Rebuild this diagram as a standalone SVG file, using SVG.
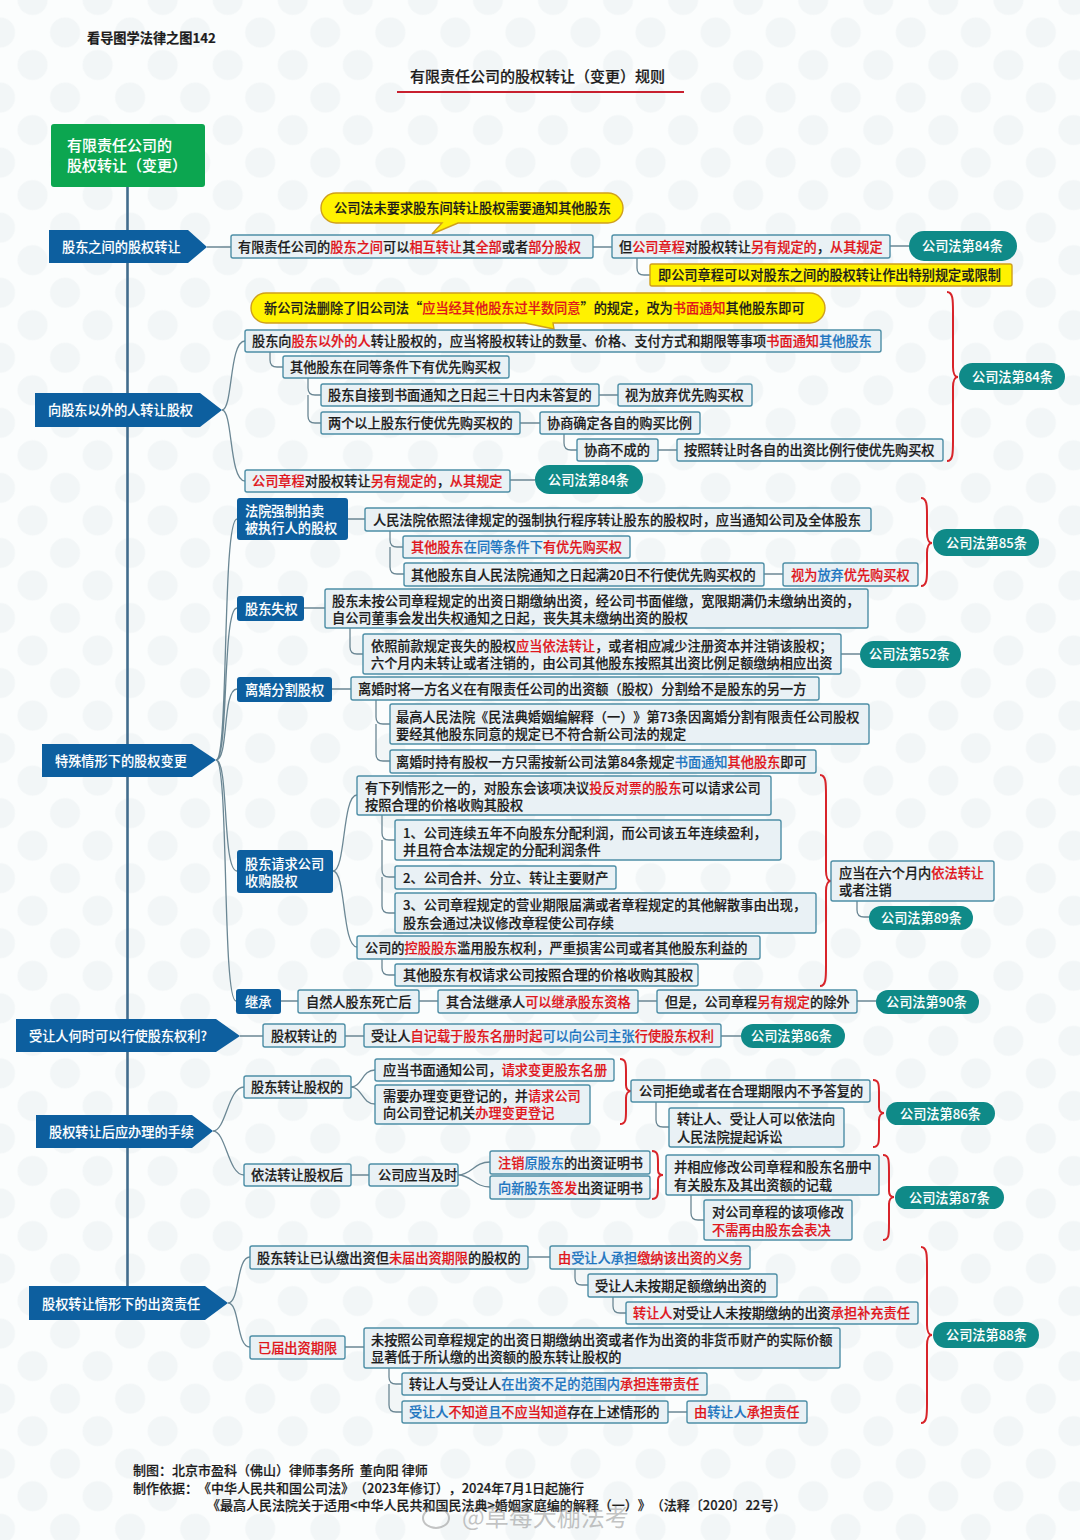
<svg xmlns="http://www.w3.org/2000/svg" width="1080" height="1540" viewBox="0 0 1080 1540">
<style>
text{font-family:"Noto Sans CJK SC","Noto Sans",sans-serif;font-size:13.2px;font-weight:500;fill:#1c1c1c;stroke:#1c1c1c;stroke-width:.2;text-spacing-trim:space-all}
.b{fill:#e9f1f5;stroke:#4d8ea6;stroke-width:1.4}
.y{fill:#fff200;stroke:#cf9f1c;stroke-width:1.4}
.p{fill:#0f8a88}
.s{fill:#0d5f9f}
.w{fill:#fff;stroke:#fff;stroke-width:.1}
.r{fill:#e0161c;stroke:#e0161c}
.u{fill:#1f76c0;stroke:#1f76c0}
.c{fill:none;stroke:#6b8794;stroke-width:1.3}
.t{fill:none;stroke:#426c8c;stroke-width:2.6}
.br{fill:none;stroke:#d8242a;stroke-width:2}
.f{font-size:13px;white-space:pre}
.wm{font-size:24px;font-weight:400;fill:#8a8a8a;fill-opacity:.5;stroke:none}
</style>
<defs>
<pattern id="bg" width="46" height="46" patternUnits="userSpaceOnUse" patternTransform="rotate(45)">
<rect width="46" height="46" fill="#fbfdfd"/>
<circle cx="23" cy="23" r="15" fill="#f2f6f7"/>
</pattern>
</defs>
<rect width="1080" height="1540" fill="url(#bg)"/>

<g id="heading">
<text x="87" y="43" style="font-weight:700">看导图学法律之图142</text>
<text x="410" y="82" style="font-size:15px">有限责任公司的股权转让（变更）规则</text>
<line x1="397" y1="92" x2="684" y2="92" stroke="#c8202f" stroke-width="2.2"/>
</g>

<g id="connectors">
<path class="t" d="M127.5 187V1288"/>
<path class="c" d="M207 247H231M593 247H612M890 246H909M637 258V268Q637 275 644 275H650"/>
<path class="c" d="M222 410C233 410 229 341 245 341M222 410C233 410 229 481 245 481"/>
<path class="c" d="M270 351V360Q270 367 277 367H283M308 378V388Q308 395 315 395H321M308 395V416Q308 423 315 423H321"/>
<path class="c" d="M599 395H618M520 423H540M564 434V443Q564 450 571 450H577M658 450H677M510 480H535"/>
<path class="c" d="M216 760C229 760 222 519 237 519M216 760C229 760 222 608 237 608M216 760C229 760 222 689 237 689M216 760C229 760 222 871 237 871M216 760C229 760 222 1001 236 1001"/>
<path class="c" d="M348 519H365M390 531V540Q390 547 397 547H403M390 547V567Q390 574 397 574H404M764 574H783"/>
<path class="c" d="M304 608H325M350 628V647Q350 654 357 654H363M841 654H860"/>
<path class="c" d="M332 689H351M376 700V717Q376 724 383 724H390M376 724V754Q376 761 383 761H390"/>
<path class="c" d="M333 871C346 871 342 795 357 795M333 871C346 871 342 947 357 947"/>
<path class="c" d="M382 815V833Q382 840 389 840H395M382 840V870Q382 877 389 877H395M382 877V906Q382 913 389 913H395M382 959V968Q382 975 389 975H395"/>
<path class="c" d="M857 901V910Q857 917 864 917H869"/>
<path class="c" d="M281 1001H298M419 1001H438M638 1001H657M857 1001H876"/>
<path class="c" d="M240 1036H263M345 1036H364M721 1036H741"/>
<path class="c" d="M213 1131C226 1131 228 1087 244 1087M213 1131C226 1131 228 1175 244 1175"/>
<path class="c" d="M351 1087C362 1087 362 1070 375 1070M351 1087C362 1087 362 1104 375 1104"/>
<path class="c" d="M351 1175H369M458 1175C472 1175 474 1162 490 1162M458 1175C472 1175 474 1187 490 1187"/>
<path class="c" d="M656 1102V1120Q656 1127 663 1127H669M691 1195V1213Q691 1220 698 1220H704"/>
<path class="c" d="M228 1303C240 1303 236 1257 250 1257M228 1303C240 1303 236 1347 250 1347"/>
<path class="c" d="M528 1257H550M575 1269V1278Q575 1285 582 1285H588M613 1297V1306Q613 1313 620 1313H626"/>
<path class="c" d="M345 1347H364M389 1368V1377Q389 1384 396 1384H402M389 1384V1405Q389 1412 396 1412H402M668 1412H687"/>
</g>

<g id="braces">
<path class="br" d="M947 292C953 292 953 300 953 312V367C953 373 955 377 958 377C955 377 953 381 953 387V441C953 453 953 461 947 461"/>
<path class="br" d="M921 498C927 498 927 506 927 514V533C927 539 929 543 932 543C929 543 927 547 927 553V570C927 578 927 586 921 586"/>
<path class="br" d="M820 775C826 775 826 783 826 795V871C826 877 828 881 831 881C828 881 826 885 826 891V966C826 978 826 986 820 986"/>
<path class="br" d="M620 1059C626 1059 626 1064 626 1072V1085C626 1089 628 1091 631 1091C628 1091 626 1094 626 1098V1111C626 1119 626 1124 620 1124"/>
<path class="br" d="M873 1080C879 1080 879 1085 879 1093V1107C879 1111 881 1113 884 1113C881 1113 879 1116 879 1120V1134C879 1142 879 1147 873 1147"/>
<path class="br" d="M652 1151C658 1151 658 1156 658 1163V1170C658 1173 660 1175 663 1175C660 1175 658 1177 658 1180V1187C658 1194 658 1199 652 1199"/>
<path class="br" d="M883 1155C889 1155 889 1160 889 1172V1191C889 1195 891 1197 894 1197C891 1197 889 1200 889 1204V1223C889 1235 889 1240 883 1240"/>
<path class="br" d="M921 1247C927 1247 927 1255 927 1267V1325C927 1331 929 1335 932 1335C929 1335 927 1339 927 1345V1403C927 1415 927 1423 921 1423"/>
</g>

<g id="root"><rect x="51" y="124" width="154" height="63" rx="3" fill="#0ca650"/><text class="w" x="67" y="151" style="font-size:15px">有限责任公司的</text><text class="w" x="67" y="171" style="font-size:15px">股权转让（变更）</text></g>

<g id="s1"><polygon class="s" points="49,230 188,230 207,247 188,263 49,263"/><text class="w" x="62" y="252">股东之间的股权转让</text></g>
<g id="s2"><polygon class="s" points="35,393 200,393 222,410 200,427 35,427"/><text class="w" x="48" y="415">向股东以外的人转让股权</text></g>
<g id="s3"><polygon class="s" points="42,744 192,744 216,760 192,777 42,777"/><text class="w" x="55" y="766">特殊情形下的股权变更</text></g>
<g id="s4"><polygon class="s" points="16,1019 216,1019 240,1036 216,1052 16,1052"/><text class="w" x="29" y="1041">受让人何时可以行使股东权利?</text></g>
<g id="s5"><polygon class="s" points="36,1115 192,1115 213,1131 192,1148 36,1148"/><text class="w" x="49" y="1137">股权转让后应办理的手续</text></g>
<g id="s6"><polygon class="s" points="29,1286 205,1286 228,1303 205,1320 29,1320"/><text class="w" x="42" y="1309">股权转让情形下的出资责任</text></g>

<g id="c1"><path class="y" d="M336 193H608A15 15 0 0 1 608 223H458L432 234L442 223H336A15 15 0 0 1 336 193Z"/><text x="334" y="213">公司法未要求股东间转让股权需要通知其他股东</text></g>
<g id="n1"><rect class="b" x="231" y="235" width="362" height="23" rx="2"/><text x="238" y="251.500">有限责任公司的<tspan class="r">股东之间</tspan>可以<tspan class="r">相互转让</tspan>其<tspan class="r">全部</tspan>或者<tspan class="r">部分股权</tspan></text></g>
<g id="n2"><rect class="b" x="612" y="235" width="278" height="23" rx="2"/><text x="619" y="251.500">但<tspan class="r">公司章程</tspan>对股权转让<tspan class="r">另有规定的</tspan>，<tspan class="r">从其规定</tspan></text></g>
<g id="p1"><rect class="p" x="909" y="231" width="108" height="30" rx="15"/><text class="w" x="922" y="251">公司法第84条</text></g>
<g id="n3"><rect class="y" x="650" y="264" width="362" height="22" rx="2"/><text x="658" y="280">即公司章程可以对股东之间的股权转让作出特别规定或限制</text></g>

<g id="c2"><path class="y" d="M266 293H810A15 15 0 0 1 810 323H553L554 329L525 323H266A15 15 0 0 1 266 293Z"/><text x="264" y="313">新公司法删除了旧公司法“<tspan class="r">应当经其他股东过半数同意</tspan>”的规定，改为<tspan class="r">书面通知</tspan>其他股东即可</text></g>
<g id="n4"><rect class="b" x="245" y="330" width="636" height="22" rx="2"/><text x="252" y="345.500">股东向<tspan class="r">股东以外的人</tspan>转让股权的，应当将股权转让的数量、价格、支付方式和期限等事项<tspan class="r">书面通知</tspan><tspan class="u">其他股东</tspan></text></g>
<g id="n5"><rect class="b" x="283" y="356" width="226" height="22" rx="2"/><text x="290" y="372">其他股东在同等条件下有优先购买权</text></g>
<g id="n6"><rect class="b" x="321" y="384" width="278" height="22" rx="2"/><text x="328" y="400">股东自接到书面通知之日起三十日内未答复的</text></g>
<g id="n7"><rect class="b" x="618" y="384" width="134" height="22" rx="2"/><text x="625" y="400">视为放弃优先购买权</text></g>
<g id="n8"><rect class="b" x="321" y="412" width="199" height="22" rx="2"/><text x="328" y="428">两个以上股东行使优先购买权的</text></g>
<g id="n9"><rect class="b" x="540" y="412" width="160" height="22" rx="2"/><text x="547" y="428">协商确定各自的购买比例</text></g>
<g id="n10"><rect class="b" x="577" y="439" width="81" height="22" rx="2"/><text x="584" y="455">协商不成的</text></g>
<g id="n11"><rect class="b" x="677" y="439" width="266" height="22" rx="2"/><text x="684" y="455">按照转让时各自的出资比例行使优先购买权</text></g>
<g id="n12"><rect class="b" x="245" y="470" width="265" height="22" rx="2"/><text x="252" y="486"><tspan class="r">公司章程</tspan>对股权转让<tspan class="r">另有规定的</tspan>，<tspan class="r">从其规定</tspan></text></g>
<g id="p2"><rect class="p" x="535" y="465" width="108" height="29" rx="14.500"/><text class="w" x="548" y="485">公司法第84条</text></g>
<g id="p3"><rect class="p" x="959" y="363" width="106" height="27" rx="13.500"/><text class="w" x="972" y="382">公司法第84条</text></g>

<g id="k1"><rect class="s" x="237" y="498" width="111" height="42" rx="3"/><text class="w" x="245" y="516">法院强制拍卖</text><text class="w" x="245" y="533">被执行人的股权</text></g>
<g id="k2"><rect class="s" x="237" y="596" width="67" height="25" rx="3"/><text class="w" x="245" y="614">股东失权</text></g>
<g id="k3"><rect class="s" x="237" y="677" width="95" height="25" rx="3"/><text class="w" x="245" y="695">离婚分割股权</text></g>
<g id="k4"><rect class="s" x="237" y="850" width="96" height="43" rx="3"/><text class="w" x="245" y="869">股东请求公司</text><text class="w" x="245" y="886">收购股权</text></g>
<g id="k5"><rect class="s" x="236" y="989" width="45" height="25" rx="3"/><text class="w" x="245" y="1007">继承</text></g>

<g id="n13"><rect class="b" x="365" y="508" width="506" height="23" rx="2"/><text x="373" y="524.500">人民法院依照法律规定的强制执行程序转让股东的股权时，应当通知公司及全体股东</text></g>
<g id="n14"><rect class="b" x="403" y="536" width="227" height="22" rx="2"/><text x="411" y="552"><tspan class="r">其他股东</tspan><tspan class="u">在同等条件下</tspan><tspan class="r">有优先购买权</tspan></text></g>
<g id="n15"><rect class="b" x="404" y="563" width="360" height="23" rx="2"/><text x="411" y="579.500">其他股东自人民法院通知之日起满20日不行使优先购买权的</text></g>
<g id="n16"><rect class="b" x="783" y="563" width="135" height="23" rx="2"/><text x="791" y="579.500"><tspan class="r">视为</tspan><tspan class="u">放弃</tspan><tspan class="r">优先购买权</tspan></text></g>
<g id="p4"><rect class="p" x="933" y="529" width="106" height="27" rx="13.500"/><text class="w" x="946" y="548">公司法第85条</text></g>

<g id="n17"><rect class="b" x="325" y="589" width="543" height="39" rx="2"/><text x="332" y="606">股东未按公司章程规定的出资日期缴纳出资，经公司书面催缴，宽限期满仍未缴纳出资的，</text><text x="332" y="623">自公司董事会发出失权通知之日起，丧失其未缴纳出资的股权</text></g>
<g id="n18"><rect class="b" x="363" y="634" width="478" height="40" rx="2"/><text x="371" y="651">依照前款规定丧失的股权<tspan class="r">应当依法转让</tspan>，或者相应减少注册资本并注销该股权；</text><text x="371" y="668">六个月内未转让或者注销的，由公司其他股东按照其出资比例足额缴纳相应出资</text></g>
<g id="p5"><rect class="p" x="860" y="641" width="101" height="27" rx="13.500"/><text class="w" x="869" y="659">公司法第52条</text></g>
<g id="n19"><rect class="b" x="351" y="677" width="468" height="23" rx="2"/><text x="358" y="693.500">离婚时将一方名义在有限责任公司的出资额（股权）分割给不是股东的另一方</text></g>
<g id="n20"><rect class="b" x="390" y="704" width="479" height="40" rx="2"/><text x="396" y="722">最高人民法院《民法典婚姻编解释（一）》第73条因离婚分割有限责任公司股权</text><text x="396" y="739">要经其他股东同意的规定已不符合新公司法的规定</text></g>
<g id="n21"><rect class="b" x="390" y="750" width="426" height="23" rx="2"/><text x="396" y="766.500">离婚时持有股权一方只需按新公司法第84条规定<tspan class="u">书面通知</tspan><tspan class="r">其他股东</tspan>即可</text></g>

<g id="n22"><rect class="b" x="357" y="776" width="414" height="39" rx="2"/><text x="365" y="793">有下列情形之一的，对股东会该项决议<tspan class="r">投反对票的股东</tspan>可以请求公司</text><text x="365" y="810">按照合理的价格收购其股权</text></g>
<g id="n23"><rect class="b" x="395" y="820" width="386" height="40" rx="2"/><text x="403" y="838">1、公司连续五年不向股东分配利润，而公司该五年连续盈利，</text><text x="403" y="855">并且符合本法规定的分配利润条件</text></g>
<g id="n24"><rect class="b" x="395" y="866" width="221" height="23" rx="2"/><text x="403" y="882.500">2、公司合并、分立、转让主要财产</text></g>
<g id="n25"><rect class="b" x="395" y="893" width="421" height="40" rx="2"/><text x="403" y="910">3、公司章程规定的营业期限届满或者章程规定的其他解散事由出现，</text><text x="403" y="928">股东会通过决议修改章程使公司存续</text></g>
<g id="n26"><rect class="b" x="357" y="936" width="403" height="23" rx="2"/><text x="365" y="952.500">公司的<tspan class="r">控股股东</tspan>滥用股东权利，严重损害公司或者其他股东利益的</text></g>
<g id="n27"><rect class="b" x="395" y="964" width="303" height="22" rx="2"/><text x="403" y="980">其他股东有权请求公司按照合理的价格收购其股权</text></g>
<g id="n28"><rect class="b" x="831" y="861" width="163" height="40" rx="2"/><text x="839" y="878">应当在六个月内<tspan class="r">依法转让</tspan></text><text x="839" y="895">或者注销</text></g>
<g id="p6"><rect class="p" x="869" y="906" width="104" height="24" rx="12"/><text class="w" x="881" y="923">公司法第89条</text></g>

<g id="n29"><rect class="b" x="298" y="990" width="121" height="23" rx="2"/><text x="306" y="1006.500">自然人股东死亡后</text></g>
<g id="n30"><rect class="b" x="438" y="990" width="200" height="23" rx="2"/><text x="446" y="1006.500">其合法继承人<tspan class="r">可以继承股东资格</tspan></text></g>
<g id="n31"><rect class="b" x="657" y="990" width="200" height="23" rx="2"/><text x="665" y="1006.500">但是，公司章程<tspan class="r">另有规定</tspan>的除外</text></g>
<g id="p7"><rect class="p" x="876" y="990" width="103" height="24" rx="12"/><text class="w" x="886" y="1007">公司法第90条</text></g>

<g id="n32"><rect class="b" x="263" y="1024" width="82" height="23" rx="2"/><text x="271" y="1040.500">股权转让的</text></g>
<g id="n33"><rect class="b" x="364" y="1024" width="357" height="23" rx="2"/><text x="371" y="1040.500">受让人<tspan class="r">自记载于股东名册时起</tspan><tspan class="u">可以向公司主张</tspan><tspan class="r">行使股东权利</tspan></text></g>
<g id="p8"><rect class="p" x="741" y="1024" width="104" height="24" rx="12"/><text class="w" x="751" y="1041">公司法第86条</text></g>

<g id="n34"><rect class="b" x="244" y="1076" width="107" height="22" rx="2"/><text x="251" y="1092">股东转让股权的</text></g>
<g id="n35"><rect class="b" x="375" y="1059" width="239" height="22" rx="2"/><text x="383" y="1075">应当书面通知公司，<tspan class="r">请求变更股东名册</tspan></text></g>
<g id="n36"><rect class="b" x="375" y="1085" width="215" height="39" rx="2"/><text x="383" y="1101">需要办理变更登记的，并<tspan class="r">请求公司</tspan></text><text x="383" y="1118">向公司登记机关<tspan class="r">办理变更登记</tspan></text></g>
<g id="n37"><rect class="b" x="631" y="1080" width="239" height="22" rx="2"/><text x="639" y="1096">公司拒绝或者在合理期限内不予答复的</text></g>
<g id="n38"><rect class="b" x="669" y="1108" width="175" height="39" rx="2"/><text x="677" y="1124">转让人、受让人可以依法向</text><text x="677" y="1142">人民法院提起诉讼</text></g>
<g id="p9"><rect class="p" x="886" y="1102" width="109" height="23" rx="11.500"/><text class="w" x="900" y="1119">公司法第86条</text></g>

<g id="n39"><rect class="b" x="244" y="1164" width="107" height="22" rx="2"/><text x="251" y="1180">依法转让股权后</text></g>
<g id="n40"><rect class="b" x="369" y="1164" width="89" height="22" rx="2"/><text x="378" y="1180">公司应当及时</text></g>
<g id="n41"><rect class="b" x="490" y="1151" width="160" height="23" rx="2"/><text x="498" y="1167.500"><tspan class="r">注销</tspan><tspan class="u">原股东</tspan>的出资证明书</text></g>
<g id="n42"><rect class="b" x="490" y="1176" width="160" height="23" rx="2"/><text x="498" y="1192.500"><tspan class="u">向新股东</tspan><tspan class="r">签发</tspan>出资证明书</text></g>
<g id="n43"><rect class="b" x="666" y="1155" width="213" height="40" rx="2"/><text x="674" y="1172">并相应修改公司章程和股东名册中</text><text x="674" y="1190">有关股东及其出资额的记载</text></g>
<g id="n44"><rect class="b" x="704" y="1200" width="148" height="40" rx="2"/><text x="712" y="1217">对公司章程的该项修改</text><text class="r" x="712" y="1235">不需再由股东会表决</text></g>
<g id="p10"><rect class="p" x="895" y="1186" width="109" height="23" rx="11.500"/><text class="w" x="909" y="1203">公司法第87条</text></g>

<g id="n45"><rect class="b" x="250" y="1246" width="278" height="23" rx="2"/><text x="257" y="1262.500">股东转让已认缴出资但<tspan class="r">未届出资期限</tspan>的股权的</text></g>
<g id="n46"><rect class="b" x="550" y="1246" width="200" height="23" rx="2"/><text x="558" y="1262.500"><tspan class="r">由</tspan><tspan class="u">受让人承担</tspan><tspan class="r">缴纳该出资的义务</tspan></text></g>
<g id="n47"><rect class="b" x="588" y="1274" width="189" height="23" rx="2"/><text x="595" y="1290.500">受让人未按期足额缴纳出资的</text></g>
<g id="n48"><rect class="b" x="626" y="1302" width="292" height="22" rx="2"/><text x="633" y="1318"><tspan class="r">转让人</tspan>对受让人未按期缴纳的出资<tspan class="r">承担补充责任</tspan></text></g>
<g id="n49"><rect class="b" x="250" y="1336" width="95" height="23" rx="2"/><text class="r" x="258" y="1352.500">已届出资期限</text></g>
<g id="n50"><rect class="b" x="364" y="1328" width="476" height="40" rx="2"/><text x="371" y="1345">未按照公司章程规定的出资日期缴纳出资或者作为出资的非货币财产的实际价额</text><text x="371" y="1362">显著低于所认缴的出资额的股东转让股权的</text></g>
<g id="n51"><rect class="b" x="402" y="1373" width="305" height="22" rx="2"/><text x="409" y="1389">转让人与受让人<tspan class="u">在出资不足的范围内</tspan><tspan class="r">承担连带责任</tspan></text></g>
<g id="n52"><rect class="b" x="402" y="1401" width="266" height="22" rx="2"/><text x="409" y="1417"><tspan class="u">受让人</tspan><tspan class="r">不知道</tspan><tspan class="u">且</tspan><tspan class="r">不应当知道</tspan>存在上述情形的</text></g>
<g id="n53"><rect class="b" x="687" y="1401" width="120" height="22" rx="2"/><text x="694" y="1417"><tspan class="r">由</tspan><tspan class="u">转让人</tspan><tspan class="r">承担责任</tspan></text></g>
<g id="p11"><rect class="p" x="933" y="1322" width="106" height="26" rx="13"/><text class="w" x="946" y="1340">公司法第88条</text></g>

<g id="footer">
<text class="f" x="133" y="1475">制图：北京市盈科（佛山）律师事务所  董向阳 律师</text>
<text class="f" x="133" y="1493">制作依据：《中华人民共和国公司法》（2023年修订），2024年7月1日起施行</text>
<text class="f" x="207" y="1510">《最高人民法院关于适用&lt;中华人民共和国民法典&gt;婚姻家庭编的解释（一）》（法释〔2020〕22号）</text>
<text class="wm" x="462" y="1526">@草莓大棚法考</text>
<ellipse cx="436" cy="1518" rx="13" ry="10" fill="none" stroke="#8a8a8a" stroke-opacity=".5" stroke-width="2"/>
</g>
</svg>
